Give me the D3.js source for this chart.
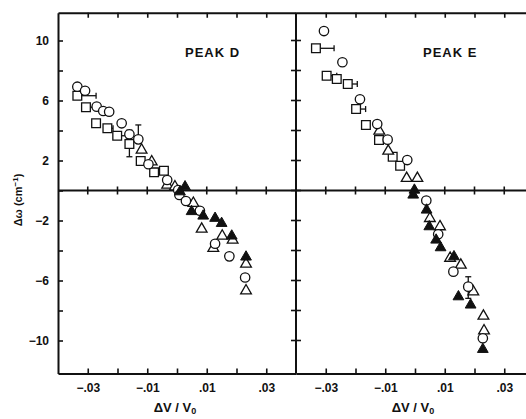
<!DOCTYPE html>
<html>
<head>
<meta charset="utf-8">
<script src="https://cdn.jsdelivr.net/npm/d3@7"></script>
<style>
  body { margin: 0; background: #fff; }
  svg { display: block; }
  text { font-family: "Liberation Sans", Arial, sans-serif; fill: #111; }
</style>
</head>
<body>
<svg id="chart" width="526" height="419"></svg>
<script>
// tick values / labels
const xTicks = [-0.03, -0.02, -0.01, 0, 0.01, 0.02, 0.03];
const xLabels = [-0.03, -0.01, 0.01, 0.03];
const yTicks = [-10, -8, -6, -4, -2, 0, 2, 4, 6, 8, 10];
const yLabels = [-10, -6, -2, 2, 6, 10];
const panelNames = ["PEAK D", "PEAK E"];

// PEAK D  [dV/V0, dw]
const dCircle = [[-0.0335,6.92],[-0.0309,6.65],[-0.0270,5.59],[-0.0248,5.30],[-0.0228,5.25],
  [-0.0186,4.48],[-0.0160,3.75],[-0.0130,3.41],[-0.0096,1.75],[-0.0033,0.70],[0.0004,0.03],
  [0.0008,-0.30],[0.0030,-0.70],[0.0077,-1.35],[0.0128,-3.55],[0.0176,-4.39],[0.0229,-5.80]];
const dSquare = [[-0.0335,6.32],[-0.0306,5.55],[-0.0272,4.48],[-0.0234,4.15],[-0.0201,3.65],
  [-0.0160,3.10],[-0.0122,1.97],[-0.0077,1.21],[-0.0044,1.32]];
const dTriOpen = [[-0.0119,2.70],[-0.0085,1.92],[-0.0033,0.37],[-0.0007,0.25],[0.0055,-0.85],
  [0.0083,-2.57],[0.0122,-3.85],[0.0152,-3.03],[0.0187,-3.30],[0.0232,-4.90],[0.0232,-6.68]];
const dTriFilled = [[0.0027,0.25],[0.0010,-0.08],[0.0049,-1.40],[0.0088,-1.70],[0.0128,-1.85],
  [0.0150,-2.19],[0.0184,-3.03],[0.0232,-4.43]];
// error bars [x1, y1, x2, y2]
const dErr = [[-0.0335,6.32,-0.0272,6.32],[-0.0306,5.55,-0.0261,5.55],[-0.0234,4.15,-0.0215,4.15],
  [-0.0201,3.65,-0.0170,3.65],[-0.0160,4.03,-0.0160,2.25],[-0.0130,3.41,-0.0130,4.37]];

// PEAK E
const eCircle = [[-0.0306,10.63],[-0.0244,8.55],[-0.0185,6.08],[-0.0127,4.43],[-0.0092,3.39],
  [-0.0026,2.03],[0.0038,-0.67],[0.0078,-2.92],[0.0129,-5.41],[0.0179,-6.41],[0.0228,-9.85]];
const eSquare = [[-0.0333,9.48],[-0.0297,7.65],[-0.0263,7.43],[-0.0226,7.10],[-0.0198,5.43],
  [-0.0165,4.37],[-0.0121,3.37],[-0.0075,2.25],[-0.0050,1.65]];
const eTriOpen = [[-0.0120,3.97],[-0.0090,2.63],[-0.0028,0.81],[0.0008,0.81],[0.0050,-1.86],
  [0.0084,-2.41],[0.0118,-4.51],[0.0154,-4.97],[0.0196,-6.75],[0.0230,-8.37],[0.0232,-9.35]];
const eTriFilled = [[-0.0002,0.03],[-0.0006,-0.30],[0.0039,-1.30],[0.0048,-2.41],[0.0071,-3.30],
  [0.0086,-3.81],[0.0131,-4.41],[0.0146,-7.08],[0.0187,-7.63],[0.0228,-10.59]];
const eErr = [[-0.0333,9.48,-0.0272,9.48],[-0.0297,7.65,-0.0263,7.65],[-0.0226,7.10,-0.0194,7.10],
  [-0.0198,5.43,-0.0166,5.43],[0.0179,-5.75,0.0179,-7.19]];

const svg = d3.select("#chart");
const yTop = 12.75, yBot = 373.5, left = 58, mid = 296;

const y = d3.scaleLinear().domain([-12.2, 11.85]).range([yBot, yTop]);
const xL = d3.scaleLinear().domain([-0.04, 0.04]).range([left, mid]);
const xR = d3.scaleLinear().domain([-0.04, 0.04]).range([mid, mid + 238]);

const fmtX = d => (d < 0 ? "\u2212" : "") + String(Math.abs(d)).replace(/^0/, "");
const fmtY = d => (d < 0 ? "\u2212" : "") + Math.abs(d);

const panels = [
  { name: panelNames[0], x: xL, circle: dCircle, square: dSquare, triO: dTriOpen, triF: dTriFilled, err: dErr, labelX: 185 },
  { name: panelNames[1], x: xR, circle: eCircle, square: eSquare, triO: eTriOpen, triF: eTriFilled, err: eErr, labelX: 423 }
];

function styleAxis(g) {
  g.select(".domain").attr("stroke", "#111").attr("stroke-width", 2);
  g.selectAll(".tick line").attr("stroke", "#111").attr("stroke-width", 1.6);
  g.selectAll(".tick text")
    .attr("font-family", "'Liberation Sans', Arial, sans-serif")
    .attr("font-size", 12).attr("font-weight", "bold").attr("fill", "#111");
}

// y axis on the left
svg.append("g").attr("transform", `translate(${left},0)`)
  .call(d3.axisLeft(y).tickValues(yTicks).tickSizeInner(-5).tickSizeOuter(0).tickPadding(9)
    .tickFormat(d => yLabels.includes(d) ? fmtY(d) : ""))
  .call(styleAxis);

panels.forEach(p => {
  svg.append("g").attr("transform", `translate(0,${yBot})`)
    .call(d3.axisBottom(p.x).tickValues(xTicks).tickSizeInner(-5).tickSizeOuter(0).tickPadding(10)
      .tickFormat(d => xLabels.some(v => Math.abs(v - d) < 1e-9) ? fmtX(d) : ""))
    .call(styleAxis);
  svg.append("g").attr("transform", `translate(0,${yTop})`)
    .call(d3.axisTop(p.x).tickValues(xTicks).tickSizeInner(-5).tickSizeOuter(0).tickFormat(""))
    .call(styleAxis);

  // zero line cross ticks
  svg.append("g").selectAll("line").data(xTicks).join("line")
    .attr("x1", d => p.x(d)).attr("x2", d => p.x(d))
    .attr("y1", y(0) - 4).attr("y2", y(0) + 4)
    .attr("stroke", "#111").attr("stroke-width", 1.6);

  svg.append("text").attr("x", p.labelX).attr("y", 57)
    .attr("font-size", 13).attr("font-weight", "bold").attr("letter-spacing", 1)
    .text(p.name);

  const t = svg.append("text")
    .attr("x", p.x(0) - 2).attr("y", 412).attr("text-anchor", "middle")
    .attr("font-size", 13).attr("font-weight", "bold");
  t.append("tspan").text("\u0394V / V");
  t.append("tspan").attr("font-size", 9).attr("dy", 2).text("0");
});

// zero line across both panels
svg.append("line").attr("x1", left).attr("x2", 526).attr("y1", y(0)).attr("y2", y(0))
  .attr("stroke", "#111").attr("stroke-width", 2);

// divider between panels with cross ticks
svg.append("line").attr("x1", mid).attr("x2", mid).attr("y1", yTop).attr("y2", yBot)
  .attr("stroke", "#111").attr("stroke-width", 2);
svg.append("g").selectAll("line").data(yTicks).join("line")
  .attr("x1", mid - 5).attr("x2", mid + 5)
  .attr("y1", d => y(d)).attr("y2", d => y(d))
  .attr("stroke", "#111").attr("stroke-width", 1.6);

// y title
const yt = svg.append("text")
  .attr("transform", "translate(22,200) rotate(-90)")
  .attr("text-anchor", "middle").attr("font-size", 11).attr("font-weight", "bold");
yt.append("tspan").text("\u0394\u03c9 (cm");
yt.append("tspan").attr("font-size", 8).attr("dy", -4).text("\u22121");
yt.append("tspan").attr("dy", 4).text(")");

const tri = d3.symbol(d3.symbolTriangle, 50);
const sq = d3.symbol(d3.symbolSquare, 76);

panels.forEach(p => {
  const g = svg.append("g");
  // error bars
  p.err.forEach(e => {
    const x1 = p.x(e[0]), y1 = y(e[1]), x2 = p.x(e[2]), y2 = y(e[3]);
    g.append("line").attr("x1", x1).attr("y1", y1).attr("x2", x2).attr("y2", y2)
      .attr("stroke", "#111").attr("stroke-width", 1.3);
    if (y1 === y2) {
      g.append("line").attr("x1", x2).attr("x2", x2).attr("y1", y2 - 3).attr("y2", y2 + 3)
        .attr("stroke", "#111").attr("stroke-width", 1.3);
    } else {
      [y1, y2].forEach(yy => g.append("line").attr("x1", x1 - 3).attr("x2", x1 + 3)
        .attr("y1", yy).attr("y2", yy).attr("stroke", "#111").attr("stroke-width", 1.3));
    }
  });
  g.selectAll(".sq").data(p.square).join("path").attr("class", "sq")
    .attr("d", sq).attr("transform", d => `translate(${p.x(d[0])},${y(d[1])})`)
    .attr("fill", "#fff").attr("stroke", "#111").attr("stroke-width", 1.3);
  g.selectAll(".to").data(p.triO).join("path").attr("class", "to")
    .attr("d", tri).attr("transform", d => `translate(${p.x(d[0])},${y(d[1])})`)
    .attr("fill", "#fff").attr("stroke", "#111").attr("stroke-width", 1.3);
  g.selectAll(".ci").data(p.circle).join("circle").attr("class", "ci")
    .attr("cx", d => p.x(d[0])).attr("cy", d => y(d[1])).attr("r", 4.7)
    .attr("fill", "#fff").attr("stroke", "#111").attr("stroke-width", 1.3);
  g.selectAll(".tf").data(p.triF).join("path").attr("class", "tf")
    .attr("d", tri).attr("transform", d => `translate(${p.x(d[0])},${y(d[1])})`)
    .attr("fill", "#111").attr("stroke", "#111").attr("stroke-width", 1);
});
</script>
</body>
</html>
